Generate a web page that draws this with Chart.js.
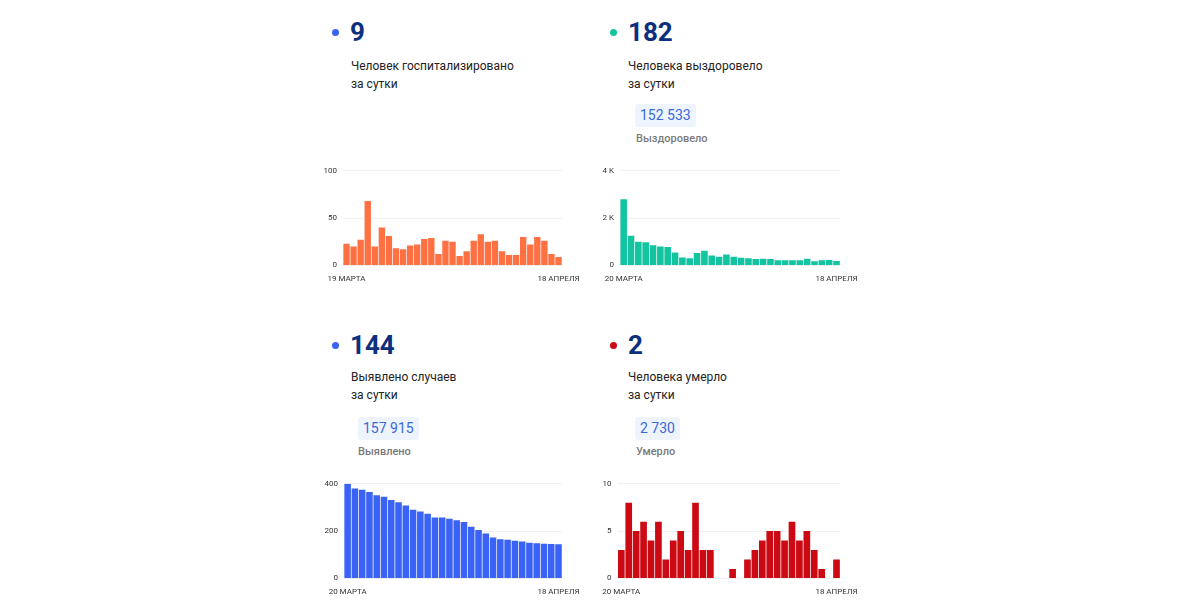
<!DOCTYPE html>
<html lang="ru">
<head>
    <meta charset="UTF-8">
    <title>Коронавирус: статистика за сутки</title>
    <script src="https://cdn.jsdelivr.net/npm/chart.js"></script>
    <style>
        body { margin: 0; background: #fff; font-family: Roboto, "Noto Sans", sans-serif; }
        .wrap { position: relative; width: 1201px; height: 615px; overflow: hidden; }
        .abs { position: absolute; white-space: nowrap; }
        .dot { width: 7px; height: 7px; border-radius: 50%; }
        .num { font-size: 26px; line-height: 32px; font-weight: 700; color: #0c2f7e; }
        .txt { font-size: 12px; line-height: 18px; color: #222; }
        .badge { height: 23px; line-height: 23px; padding: 0 5px; font-size: 14px; color: #3a68d8; background: #eef4fd; border-radius: 3px; }
        .lbl { font-size: 11px; line-height: 14px; color: #7a7a7a; font-weight: 500; }
        canvas { position: absolute; }
    </style>
</head>
<body>
<div class="wrap">
    <!-- верхний левый -->
    <div class="abs dot" style="left:332px; top:29px; background:#3a63f5"></div>
    <div class="abs num" style="left:350px; top:16px">9</div>
    <div class="abs txt" style="left:351px; top:57px">Человек госпитализировано<br>за сутки</div>
    <canvas id="chartHosp" width="274" height="133" style="left:315px; top:160px"></canvas>

    <!-- верхний правый -->
    <div class="abs dot" style="left:610px; top:29px; background:#14c3a0"></div>
    <div class="abs num" style="left:628px; top:16px">182</div>
    <div class="abs txt" style="left:628px; top:57px">Человека выздоровело<br>за сутки</div>
    <div class="abs badge" style="left:635px; top:104px">152 533</div>
    <div class="abs lbl" style="left:636px; top:132px">Выздоровело</div>
    <canvas id="chartRec" width="274" height="133" style="left:593px; top:160px"></canvas>

    <!-- нижний левый -->
    <div class="abs dot" style="left:332px; top:342px; background:#3a63f5"></div>
    <div class="abs num" style="left:350px; top:329px">144</div>
    <div class="abs txt" style="left:351px; top:368px">Выявлено случаев<br>за сутки</div>
    <div class="abs badge" style="left:358px; top:417px">157 915</div>
    <div class="abs lbl" style="left:358px; top:445px">Выявлено</div>
    <canvas id="chartCases" width="274" height="133" style="left:315px; top:473px"></canvas>

    <!-- нижний правый -->
    <div class="abs dot" style="left:610px; top:342px; background:#cc0a14"></div>
    <div class="abs num" style="left:628px; top:329px">2</div>
    <div class="abs txt" style="left:628px; top:368px">Человека умерло<br>за сутки</div>
    <div class="abs badge" style="left:635px; top:417px">2 730</div>
    <div class="abs lbl" style="left:636px; top:445px">Умерло</div>
    <canvas id="chartDeaths" width="274" height="133" style="left:593px; top:473px"></canvas>
</div>

<script>
    // даты (первая и последняя подписываются)
    const hospDays = ['19 МАРТА', '20', '21', '22', '23', '24', '25', '26', '27', '28', '29', '30', '31',
        '1', '2', '3', '4', '5', '6', '7', '8', '9', '10', '11', '12', '13', '14', '15', '16', '17', '18 АПРЕЛЯ'];
    const days = ['20 МАРТА', '21', '22', '23', '24', '25', '26', '27', '28', '29', '30', '31',
        '1', '2', '3', '4', '5', '6', '7', '8', '9', '10', '11', '12', '13', '14', '15', '16', '17', '18 АПРЕЛЯ'];

    // госпитализировано за сутки
    const hospitalized = [23, 20, 27, 68, 20, 40, 31, 18, 17, 21, 22, 28, 29, 12, 26, 25,
        10, 15, 26, 33, 25, 26, 15, 11, 11, 30, 22, 30, 26, 12, 9];
    // выздоровело за сутки
    const recovered = [2800, 1250, 1000, 980, 850, 800, 780, 550, 330, 300, 520, 620, 420, 370, 460,
        370, 320, 300, 270, 280, 270, 220, 220, 220, 220, 280, 180, 220, 230, 182];
    // выявлено за сутки
    const cases = [400, 380, 375, 365, 352, 345, 332, 322, 308, 290, 283, 273, 258, 257, 252,
        246, 239, 218, 205, 190, 173, 166, 163, 159, 156, 151, 149, 147, 145, 144];
    // умерло за сутки
    const deaths = [3, 8, 5, 6, 4, 6, 2, 4, 5, 3, 8, 3, 3, 0, 0, 1, 0, 2, 3, 4, 5, 5, 4, 6, 4, 5, 3, 1, 0, 2];

    const hospTicks = [0, 50, 100];
    const recTicks = [0, 2000, 4000];
    const casesTicks = [0, 200, 400];
    const deathsTicks = [0, 5, 10];

    function fmtK(v) {
        return v >= 1000 ? (v / 1000) + ' K' : String(v);
    }

    function makeChart(id, labels, values, color, ticks, yWidth, fmt) {
        const ctx = document.getElementById(id).getContext('2d');
        const last = labels.length - 1;
        return new Chart(ctx, {
            type: 'bar',
            data: {
                labels: labels,
                datasets: [{
                    data: values,
                    backgroundColor: color,
                    categoryPercentage: 1,
                    barPercentage: 0.9
                }]
            },
            options: {
                responsive: false,
                animation: false,
                layout: { padding: { top: 4, right: 22, bottom: 0, left: 0 } },
                plugins: { legend: { display: false }, tooltip: { enabled: false } },
                scales: {
                    x: {
                        grid: { display: false, drawTicks: false },
                        border: { display: false },
                        ticks: {
                            autoSkip: false,
                            maxRotation: 0,
                            padding: 9,
                            color: '#333',
                            font: { family: 'Roboto', size: 8 },
                            callback: function (val, i) {
                                return (i === 0 || i === last) ? labels[i] : '';
                            }
                        }
                    },
                    y: {
                        min: ticks[0],
                        max: ticks[ticks.length - 1],
                        afterBuildTicks: function (scale) {
                            scale.ticks = ticks.map(function (v) { return { value: v }; });
                        },
                        afterFit: function (scale) { scale.width = yWidth; },
                        grid: { color: '#f0f0f0', drawTicks: false },
                        border: { display: false },
                        ticks: {
                            padding: 6,
                            color: '#333',
                            font: { family: 'Roboto', size: 8 },
                            callback: fmt || function (v) { return v; }
                        }
                    }
                }
            }
        });
    }

    makeChart('chartHosp', hospDays, hospitalized, '#ff7043', hospTicks, 28);
    makeChart('chartRec', days, recovered, '#14c3a0', recTicks, 27, fmtK);
    makeChart('chartCases', days, cases, '#3a63f5', casesTicks, 29);
    makeChart('chartDeaths', days, deaths, '#cc0a14', deathsTicks, 24);
</script>
</body>
</html>
